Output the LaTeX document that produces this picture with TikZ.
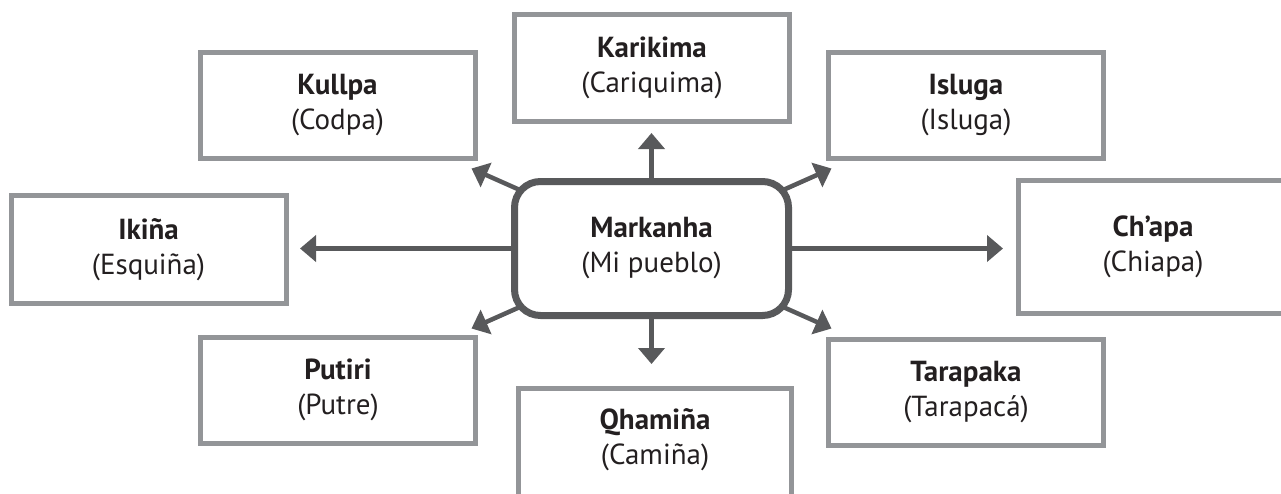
\documentclass[tikz,border=0pt]{standalone}
\usepackage{fontspec}
\setmainfont{PT Sans}
\usetikzlibrary{arrows.meta}
\pgfdeclarelayer{background}
\pgfsetlayers{background,main}
\definecolor{boxgray}{HTML}{939598}
\definecolor{hubgray}{HTML}{58595B}
\definecolor{txt}{HTML}{231F20}
\tikzset{
  place/.style={draw=boxgray, line width=5pt, fill=white, minimum width=275pt,
    minimum height=106pt, inner sep=0pt, align=center,
    font=\fontsize{29}{35}\selectfont, text=txt},
  hub/.style={draw=hubgray, line width=7pt, fill=white, rounded corners=26pt,
    minimum width=274pt, minimum height=134pt, inner sep=0pt, align=center,
    font=\fontsize{29}{35}\selectfont, text=txt},
  plain/.style={inner sep=0pt, align=center, font=\fontsize{29}{35}\selectfont, text=txt},
  arr/.style={draw=hubgray, line width=4.5pt, -{Triangle[length=16pt,width=26pt]}}
}
\begin{document}
\begin{tikzpicture}[x=1pt,y=-1pt]
\useasboundingbox (0,0) rectangle (1281,493);
\clip (0,0) rectangle (1281,493);

\node[place] (kul) at (337.5,105) {\textbf{Kullpa}\\(Codpa)};
\node[place, minimum height=107pt] (kar) at (652,68) {\textbf{Karikima}\\(Cariquima)};
\node[place] (isl) at (966,105) {\textbf{Isluga}\\(Isluga)};
\node[place, minimum height=108pt] (iki) at (148.5,249.5) {\textbf{Ikiña}\\(Esquiña)};
\node[place, minimum width=269pt, minimum height=133pt] (cha) at (1153,247) {\textbf{Ch’apa}\\(Chiapa)};
\node[place] (put) at (338,390) {\textbf{Putiri}\\(Putre)};
\node[place] (tar) at (966,392) {\textbf{Tarapaka}\\(Tarapacá)};
\node[place, minimum width=273pt, minimum height=117pt] (qha) at (655,447) {};
\node[plain] (qhat) at (655,440) {\textbf{Qhamiña}\\(Camiña)};

\node[hub] (m) at (651.5,248.5) {\textbf{Markanha}\\(Mi pueblo)};

\coordinate (tKar) at (651.5,133);
\coordinate (tQha) at (651.5,364);
\coordinate (tIki) at (300,248.5);
\coordinate (tCha) at (1003,248.5);
\coordinate (tKul) at (471.5,168.5);
\coordinate (tIsl) at (831.5,168.5);
\coordinate (tPut) at (471.5,328.5);
\coordinate (tTar) at (831.5,328.5);

\begin{pgfonlayer}{background}
\fill[white] (0,0) rectangle (1281,493);
\foreach \t in {tKar,tQha,tIki,tCha,tKul,tIsl,tPut,tTar}
  \draw[arr] (m.center) -- (\t);
\end{pgfonlayer}
\end{tikzpicture}
\end{document}
